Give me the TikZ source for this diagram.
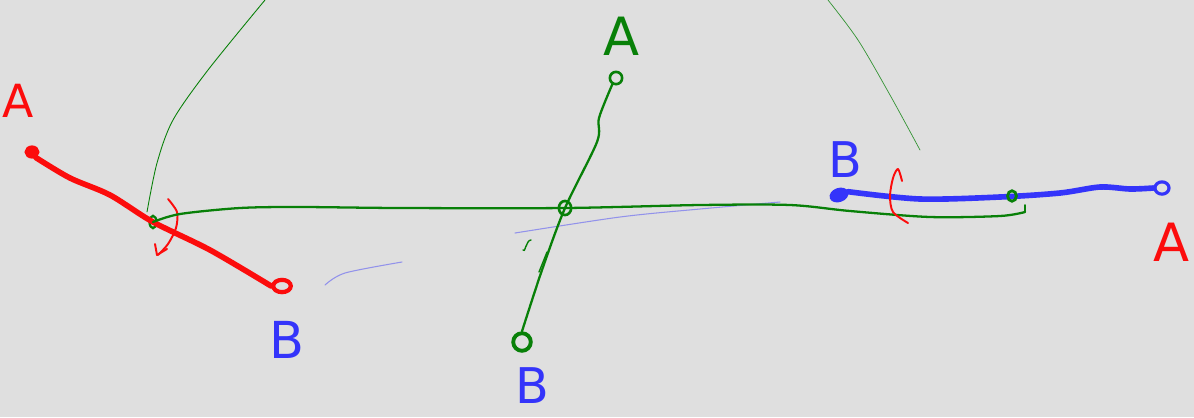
\documentclass[tikz,border=0pt]{standalone}
\usepackage{fontspec}
\setmainfont{DejaVu Sans}
\usetikzlibrary{shapes.geometric}
\definecolor{board}{RGB}{223,223,223}
\definecolor{penred}{RGB}{252,12,12}
\definecolor{pengreen}{RGB}{8,128,8}
\definecolor{penblue}{RGB}{52,52,250}
\begin{document}
\begin{tikzpicture}[x=0.02cm, y=-0.02cm,
    pin/.style={ellipse, draw, line width=1.5pt, inner sep=0pt,
      minimum width=6pt, minimum height=5pt},
    letter/.style={font=\fontsize{#1}{#1}\selectfont, inner sep=0pt},
    ink/.style={line width=#1, line cap=round, line join=round}
  ]
  \fill[board] (0,0) rectangle (1194,417);
  \useasboundingbox (0,0) rectangle (1194,417);

  \draw[pengreen, ink=0.5pt] plot[smooth] coordinates
    {(265,0) (208,70) (173,120) (157,163) (147,212)};
  \draw[pengreen!80!board, ink=0.4pt] plot[smooth] coordinates
    {(828,0) (858,40) (890,95) (920,150)};
  \draw[penblue!45!board, ink=0.6pt] plot[smooth] coordinates
    {(515,233) (620,217) (700,209) (780,202)};
  \draw[penblue!45!board, ink=0.6pt] plot[smooth] coordinates
    {(325,285) (345,273) (402,262)};

  \node[pin, penred, fill=penred, minimum width=7pt, minimum height=6pt] (redA) at (32,152) {};
  \node[pin, penred, line width=2.4pt, minimum width=10pt, minimum height=7pt] (redB) at (282,286) {};
  \node[pin, pengreen, line width=1.3pt, minimum width=4pt, minimum height=7pt] (pivL) at (153,222) {};
  \draw[penred, ink=3.2pt] plot[smooth] coordinates
    {(redA.-55) (70,178) (110,195) (pivL) (210,250) (redB.west)};
  \draw[penred, ink=1.1pt] plot[smooth] coordinates
    {(168,199) (177,212) (176,228) (168,244) (158,255)};
  \draw[penred, ink=1.1pt] (155,244) -- (157,255) -- (167,249);

  \node[pin, pengreen, minimum width=7pt, minimum height=7pt] (grA) at (616,78) {};
  \node[pin, pengreen, line width=2.2pt, minimum width=10pt, minimum height=10pt] (grB) at (522,342) {};
  \node[pin, pengreen, line width=1.5pt, minimum width=7pt, minimum height=8pt] (grC) at (565,208) {};
  \draw[pengreen, ink=1.3pt] plot[smooth] coordinates
    {(grA.-120) (599,118) (597,142) (grC) (542,270) (grB.north)};
  \draw[pengreen, ink=0.8pt] (523,250) to[out=-70,in=180] (531,240);
  \draw[pengreen, ink=0.8pt] (539,272) -- (547,252);
  \draw[pengreen, ink=1.3pt] plot[smooth] coordinates
    {(pivL) (180,214) (240,208) (300,207) (400,208) (grC) (700,205)
     (790,205) (850,211) (930,217) (1000,216) (1025,212)};
  \draw[pengreen, ink=1.1pt] (1025,212) -- (1025,205);

  \node[pin, penblue, fill=penblue, line width=2pt, minimum width=9pt, minimum height=6pt, rotate=20] (blB) at (839,195) {};
  \node[pin, penblue, line width=1.8pt, minimum width=8pt, minimum height=7pt] (blA) at (1162,188) {};
  \draw[penblue, ink=3.2pt] plot[smooth] coordinates
    {(blB.east) (920,199) (1000,197) (1060,193) (1100,187) (1130,189) (blA.west)};
  \node[pin, pengreen, line width=1.6pt, minimum width=5pt, minimum height=6pt] (blMid) at (1012,196) {};
  \draw[penred, ink=1.1pt] plot[smooth] coordinates
    {(902,181) (898,169) (893,178) (890,196) (893,212) (908,223)};

  \node[letter=26, penred] (labA1) at (18,101) {A};
  \node[letter=30, pengreen] (labA2) at (622,36) {A};
  \node[letter=30, penred] (labA3) at (1172,242) {A};
  \node[letter=29, penblue] (labB1) at (287,340) {B};
  \node[letter=28, penblue] (labB2) at (532,386) {B};
  \node[letter=28, penblue] (labB3) at (845,160) {B};
\end{tikzpicture}
\end{document}
